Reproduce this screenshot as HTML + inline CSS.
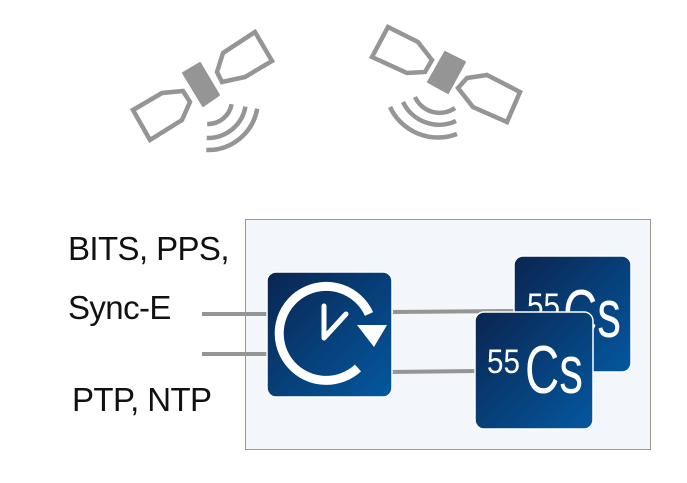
<!DOCTYPE html>
<html><head><style>
body{margin:0;width:687px;height:483px;background:#fff;overflow:hidden;position:relative;font-family:"Liberation Sans",sans-serif}
.t{position:absolute;font-size:33px;color:#111;left:68px;letter-spacing:-0.6px}
</style></head><body>
<svg width="687" height="483" style="position:absolute;left:0;top:0">
<defs>
<linearGradient id="g" x1="0" y1="0" x2="1" y2="1"><stop offset="0" stop-color="#0a2550"/><stop offset="1" stop-color="#0458a0"/></linearGradient>
</defs>
<g fill="none" stroke="#959595" stroke-width="4.5" stroke-linejoin="miter">
<polygon points="217,72 223,53 255,32 272,61 245,77 222,82"/>
<polygon points="133,110 162,93 183,91 190,102 182,120 150,140"/>
<polygon points="372,57 388,27 418,42 432,60 425,72 407,73"/>
<polygon points="458,88 467,78 487,75 520,92 507,122 473,107"/>
<path d="M231.6,104.2 A24 24 0 0 1 207.2,124"/>
<path d="M245.4,106.6 A38 38 0 0 1 206.7,138"/>
<path d="M257.2,108.7 A50 50 0 0 1 206.3,150"/>
<path d="M455,108 A27 27 0 0 1 415,97"/>
<path d="M456,121 A40 40 0 0 1 403,102"/>
<path d="M457,134 A53 53 0 0 1 390,107"/>
</g>
<polygon points="183,73 200,63 219,95 203,106" fill="#959595" stroke="#959595" stroke-width="2" stroke-linejoin="round"/>
<polygon points="428,82 445,52 465,62 448,93" fill="#959595" stroke="#959595" stroke-width="2" stroke-linejoin="round"/>
<rect x="245.5" y="219.5" width="405" height="230" fill="#f3f6fb" stroke="#999" stroke-width="1"/>
<g stroke="#959595" stroke-width="4">
<line x1="202" y1="314" x2="270" y2="314"/>
<line x1="202" y1="354" x2="270" y2="354"/>
<line x1="393" y1="312" x2="516" y2="311"/>
<line x1="389" y1="372" x2="477" y2="371"/>
</g>
<rect x="267" y="272" width="125" height="125" rx="9" fill="url(#g)" stroke="#fff" stroke-width="1.5"/>
<rect x="514" y="256" width="117" height="116" rx="9" fill="url(#g)" stroke="#fff" stroke-width="1.5"/>
<text x="527" y="317" fill="#fff" font-size="34" textLength="33" lengthAdjust="spacingAndGlyphs" font-family="Liberation Sans">55</text>
<text x="563" y="337" fill="#fff" font-size="68" textLength="58" lengthAdjust="spacingAndGlyphs" font-family="Liberation Sans">Cs</text>
<rect x="475" y="312" width="118" height="117" rx="9" fill="url(#g)" stroke="#fff" stroke-width="1.5"/>
<text x="487" y="373" fill="#fff" font-size="34" textLength="33" lengthAdjust="spacingAndGlyphs" font-family="Liberation Sans">55</text>
<text x="525" y="393" fill="#fff" font-size="68" textLength="58" lengthAdjust="spacingAndGlyphs" font-family="Liberation Sans">Cs</text>
<g fill="none" stroke="#fff" stroke-width="9">
<path d="M358,368 A47 47 0 1 1 369,314"/>
</g>
<polygon points="357,325 387,325 374,347" fill="#fff"/>
<polyline points="324,306 324,338 346,314" fill="none" stroke="#fff" stroke-width="5" stroke-linecap="round" stroke-linejoin="round"/>
</svg>
<div class="t" style="top:230px">BITS, PPS,</div>
<div class="t" style="top:289px">Sync-E</div>
<div class="t" style="top:381px;left:72px">PTP, NTP</div>
</body></html>
